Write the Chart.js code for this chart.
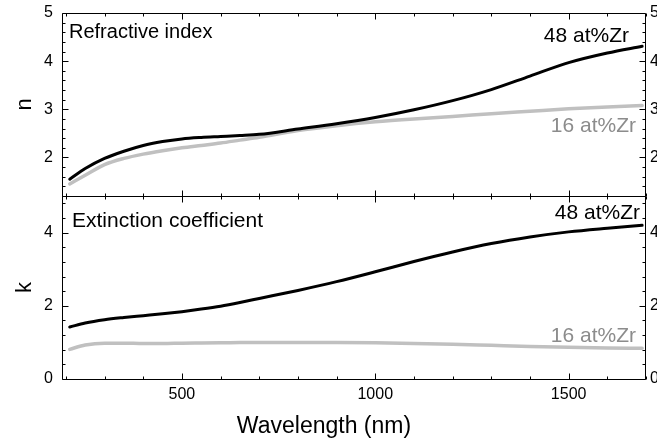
<!DOCTYPE html>
<html>
<head>
<meta charset="utf-8">
<script src="https://cdn.jsdelivr.net/npm/chart.js@4.4.0/dist/chart.umd.min.js"></script>
<style>
  html, body { margin: 0; padding: 0; background: #fff; overflow: hidden; }
  #wrap { width: 657px; height: 439px; overflow: hidden; position: relative; }
  canvas { display: block; }
</style>
</head>
<body>
<div id="wrap"><canvas id="c" width="666" height="439" style="width:666px;height:439px"></canvas></div>
<script>
// ---- data ----
const wavelength = [210, 250, 300, 350, 400, 450, 500, 550, 600, 650, 700, 800, 900, 1000, 1100, 1200, 1300, 1400, 1500, 1600, 1690];
const n48 = [1.55, 1.77, 1.98, 2.13, 2.25, 2.33, 2.385, 2.415, 2.435, 2.455, 2.48, 2.59, 2.70, 2.83, 2.99, 3.18, 3.41, 3.69, 3.97, 4.17, 4.31];
const n16 = [1.45, 1.63, 1.85, 1.98, 2.07, 2.14, 2.20, 2.25, 2.30, 2.36, 2.42, 2.56, 2.66, 2.74, 2.80, 2.85, 2.91, 2.96, 3.01, 3.05, 3.08];
const k48 = [1.42, 1.53, 1.62, 1.68, 1.73, 1.78, 1.84, 1.91, 1.99, 2.09, 2.20, 2.42, 2.66, 2.93, 3.21, 3.47, 3.70, 3.88, 4.02, 4.12, 4.20];
const k16 = [0.81, 0.93, 0.98, 0.98, 0.97, 0.97, 0.98, 0.985, 0.99, 0.995, 1.0, 1.0, 1.0, 0.99, 0.97, 0.95, 0.92, 0.89, 0.87, 0.85, 0.84];

const xTicks = [500, 1000, 1500];
const nTicks = [2, 3, 4, 5];
const kTicks = [0, 2, 4];
const seriesLabels = ['48 at%Zr', '16 at%Zr'];
const panelLabels = ['Refractive index', 'Extinction coefficient'];
const xTitle = 'Wavelength (nm)';

const FONT = "'Liberation Sans', Arial, Helvetica, sans-serif";
const BLACK = '#000000';
const GRAYLINE = '#c0c0c0';
const GRAYTEXT = '#8c8c8c';

function pts(ys) { return wavelength.map((w, i) => ({x: w, y: ys[i]})); }
function fixTicks(arr) { return s => { s.ticks = arr.map(v => ({value: v})); }; }

const framePlugin = {
  id: 'frame',
  afterDraw(chart) {
    const {ctx, scales} = chart;
    const x = scales.x;
    const L = Math.round(x.left) + 0.5, R = Math.round(x.right) - 0.5;
    ctx.save();
    ctx.strokeStyle = '#000';
    ctx.lineWidth = 1;
    const panels = [
      {s: scales.yn, major: nTicks, start: 1.2, step: 0.2, count: 20},
      {s: scales.yk, major: kTicks, start: 0, step: 0.4, count: 13}
    ];
    ctx.beginPath();
    panels.forEach(p => {
      const T = Math.round(p.s.top) + 0.5, B = Math.round(p.s.bottom) + 0.5;
      ctx.rect(L, T, R - L, B - T);
      for (let i = 0; i <= 15; i++) {
        const v = 200 + i * 100;
        const px = Math.round(x.getPixelForValue(v)) + 0.5;
        const len = xTicks.includes(v) ? 6 : 3;
        ctx.moveTo(px, T); ctx.lineTo(px, T + len);
        ctx.moveTo(px, B); ctx.lineTo(px, B - len);
      }
      for (let i = 0; i < p.count; i++) {
        const v = Math.round((p.start + i * p.step) * 100) / 100;
        if (v < p.s.min || v > p.s.max) continue;
        const py = Math.round(p.s.getPixelForValue(v)) + 0.5;
        const len = p.major.includes(v) ? 6 : 3;
        ctx.moveTo(L, py); ctx.lineTo(L + len, py);
        ctx.moveTo(R, py); ctx.lineTo(R - len, py);
      }
    });
    ctx.stroke();

    const yn = scales.yn, yk = scales.yk;
    ctx.textBaseline = 'alphabetic';
    ctx.font = '20px ' + FONT;
    ctx.fillStyle = BLACK;
    ctx.textAlign = 'left';
    ctx.fillText(panelLabels[0], x.left + 7, yn.top + 25);
    ctx.font = '21px ' + FONT;
    ctx.textAlign = 'right';
    ctx.fillText(seriesLabels[0], x.right - 17, yn.top + 29);
    ctx.fillStyle = GRAYTEXT;
    ctx.fillText(seriesLabels[1], x.right - 10, yn.top + 119);

    ctx.fillStyle = BLACK;
    ctx.textAlign = 'left';
    ctx.fillText(panelLabels[1], x.left + 10, yk.top + 31);
    ctx.textAlign = 'right';
    ctx.fillText(seriesLabels[0], x.right - 6, yk.top + 23);
    ctx.fillStyle = GRAYTEXT;
    ctx.fillText(seriesLabels[1], x.right - 10, yk.top + 146);

    ctx.font = '23px ' + FONT;
    ctx.fillStyle = BLACK;
    ctx.textAlign = 'center';
    ctx.fillText(xTitle, 324, x.bottom - 6);
    ctx.restore();
  }
};

const tickFont = {family: FONT, size: 16};
const titleFont = {family: FONT, size: 22};

function yAxis(pos, min, max, ticks, weight, title, width) {
  return {
    type: 'linear', position: pos, stack: pos, stackWeight: 1, weight: weight,
    min: min, max: max,
    afterBuildTicks: fixTicks(ticks),
    afterFit: s => { s.width = width; s.paddingTop = 0; s.paddingBottom = 0; },
    grid: {display: false, drawTicks: false},
    border: {display: false},
    ticks: {color: '#000', font: tickFont, padding: pos === 'left' ? 9 : 4, callback: v => String(v)},
    title: title ? {display: true, text: title, color: '#000', font: titleFont, padding: {top: 12, bottom: 0}} : {display: false}
  };
}

new Chart(document.getElementById('c'), {
  type: 'line',
  data: {
    datasets: [
      {label: 'n ' + seriesLabels[0], data: pts(n48), yAxisID: 'yn', borderColor: BLACK, borderWidth: 3},
      {label: 'n ' + seriesLabels[1], data: pts(n16), yAxisID: 'yn', borderColor: GRAYLINE, borderWidth: 3.5},
      {label: 'k ' + seriesLabels[0], data: pts(k48), yAxisID: 'yk', borderColor: BLACK, borderWidth: 3},
      {label: 'k ' + seriesLabels[1], data: pts(k16), yAxisID: 'yk', borderColor: GRAYLINE, borderWidth: 3.5}
    ]
  },
  options: {
    responsive: false,
    animation: false,
    events: [],
    layout: {padding: {top: 13, left: 0, right: 0, bottom: 0}},
    elements: {point: {radius: 0}, line: {cubicInterpolationMode: 'monotone', borderCapStyle: 'round'}},
    plugins: {legend: {display: false}, tooltip: {enabled: false}},
    scales: {
      x: {
        type: 'linear', position: 'bottom', min: 190, max: 1700,
        afterBuildTicks: fixTicks(xTicks),
        afterFit: s => { s.height = 60; s.paddingLeft = 0; s.paddingRight = 0; },
        grid: {display: false, drawTicks: false},
        border: {display: false},
        ticks: {color: '#000', font: tickFont, padding: 6, callback: v => String(v)},
        title: {display: false}
      },
      yn: yAxis('left', 1.2, 5, nTicks, 2, 'n', 62),
      yk: yAxis('left', 0, 5, kTicks, 1, 'k', 62),
      ynr: yAxis('right', 1.2, 5, nTicks, 1, null, 20),
      ykr: yAxis('right', 0, 5, kTicks, 2, null, 20)
    }
  },
  plugins: [framePlugin]
});
</script>
</body>
</html>
